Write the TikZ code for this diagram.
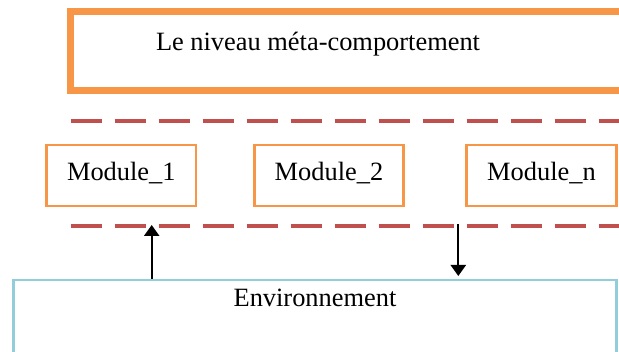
\documentclass[tikz,border=0pt]{standalone}
\usepackage{fontspec}
\setmainfont{Liberation Serif}
\usetikzlibrary{arrows.meta}
\definecolor{boxorange}{HTML}{F79646}
\definecolor{dashred}{HTML}{C0504D}
\definecolor{envblue}{HTML}{92CDDC}
\tikzset{
  txt/.style={font=\fontsize{26.4pt}{32pt}\selectfont, inner sep=0pt},
  modbox/.style={draw=boxorange, line width=2.6pt, minimum width=149.5pt,
    minimum height=61pt, inner sep=0pt, text height=17pt, text depth=6.6pt,
    font=\fontsize{26.4pt}{32pt}\selectfont},
  levelline/.style={draw=dashred, line width=4pt, dash pattern=on 31pt off 13pt},
  flow/.style={line width=2.3pt, -{Triangle[width=15pt,length=11pt]}}
}
\begin{document}
\begin{tikzpicture}[x=1pt,y=-1pt]
\useasboundingbox (0,0) rectangle (619,352);
\clip (0,0) rectangle (619,352);
% meta-behaviour level (open on the right)
\node[draw=boxorange, line width=6.5pt, minimum width=580pt, minimum height=79pt,
      inner sep=0pt] (meta) at (360.3,50.8) {};
\node[txt, anchor=base] (metatxt) at (318,50.7) {Le niveau méta-comportement};
% level separators
\draw[levelline] (70.5,120.7) -- (650,120.7);
\draw[levelline] (70.5,226) -- (650,226);
% modules
\node[modbox] (m1) at (121.3,175.5) {Module\_1};
\node[modbox] (m2) at (329,175.5) {Module\_2};
\node[modbox] (mn) at (541.5,175.5) {Module\_n};
% environment
\node[draw=envblue, line width=2.7pt, minimum width=602.8pt, minimum height=140pt,
      inner sep=0pt] (env) at (315.1,350) {};
\node[txt, anchor=base] (envtxt) at (315,306.7) {Environnement};
% exchanges with the environment
\coordinate (perceive) at (151.7,225);
\coordinate (actfrom) at (458.3,224);
\coordinate (acttip) at (458.3,276);
\draw[flow] (env.north -| perceive) -- (perceive);
\draw[flow] (actfrom) -- (acttip);
\end{tikzpicture}
\end{document}
